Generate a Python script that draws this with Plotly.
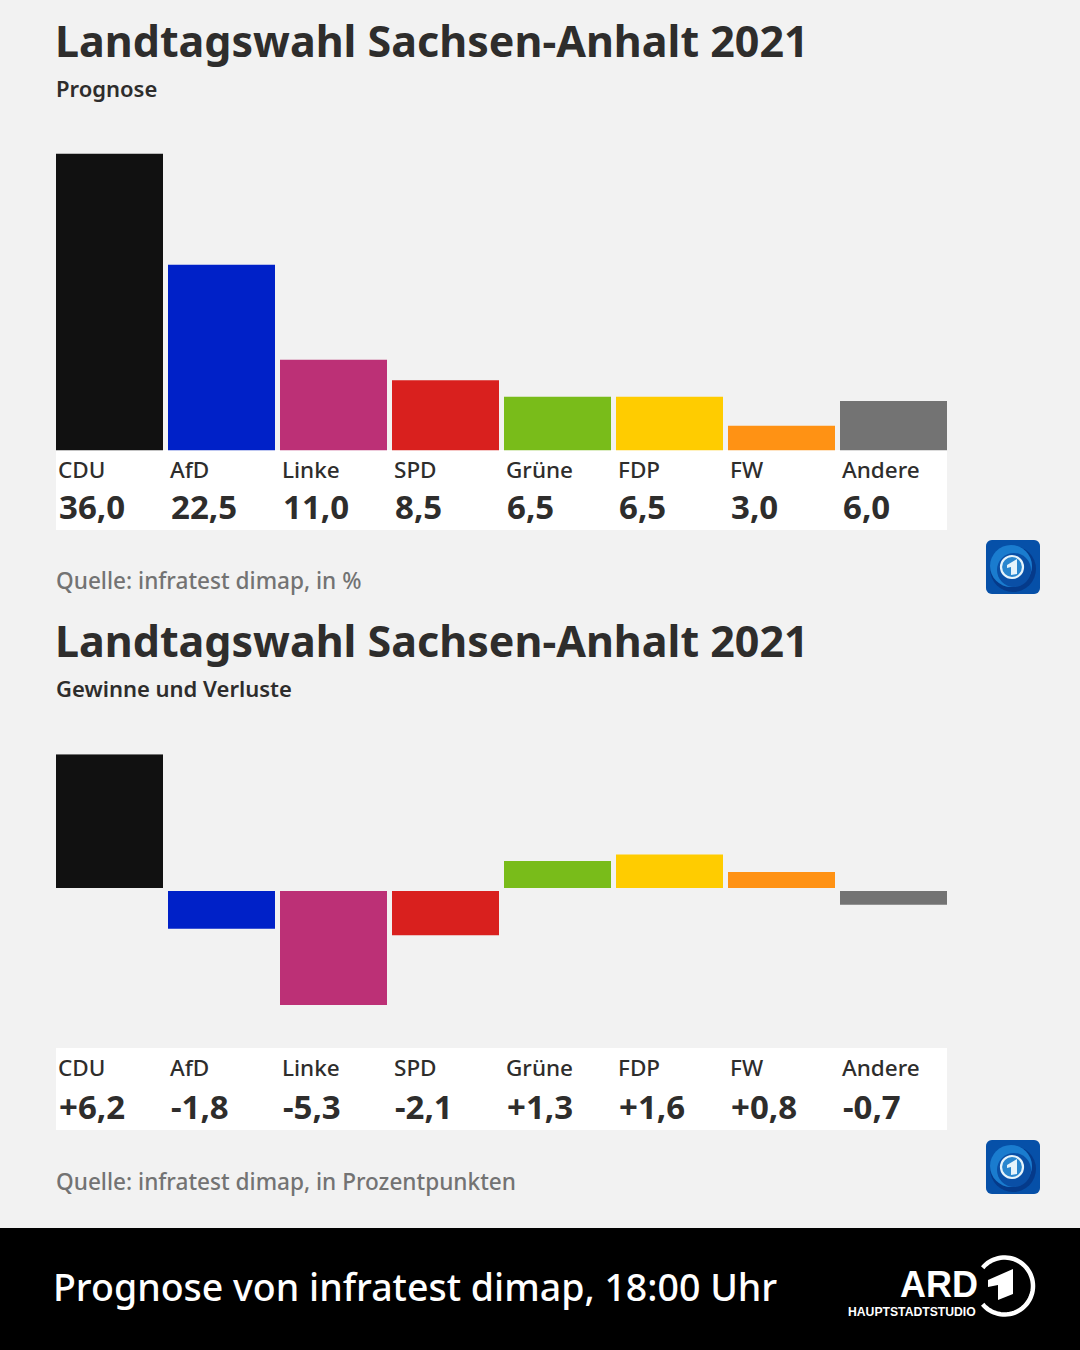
import math
import plotly.graph_objects as go

W, H = 1080, 1350
parties = ["CDU", "AfD", "Linke", "SPD", "Grüne", "FDP", "FW", "Andere"]
colors = ["#111111", "#0021c8", "#bc3076", "#d9201e", "#79bc1a", "#ffcc00", "#ff9214", "#737373"]
prognose = [36.0, 22.5, 11.0, 8.5, 6.5, 6.5, 3.0, 6.0]
prognose_labels = ["36,0", "22,5", "11,0", "8,5", "6,5", "6,5", "3,0", "6,0"]
diff = [6.2, -1.8, -5.3, -2.1, 1.3, 1.6, 0.8, -0.7]
diff_labels = ["+6,2", "-1,8", "-5,3", "-2,1", "+1,3", "+1,6", "+0,8", "-0,7"]

BG = "#f2f2f2"
DARK = "#2e2d2c"
GREY = "#737373"
FONT = "Noto Sans"


def py(v):
    return 1 - v / H


def px(v):
    return v / W


fig = go.Figure()
fig.add_bar(x=parties, y=prognose, marker_color=colors, marker_line_width=0,
            xaxis="x", yaxis="y", showlegend=False)
fig.add_bar(x=parties, y=diff, marker_color=colors, marker_line_width=0,
            xaxis="x2", yaxis="y2", showlegend=False)

shapes = []
ann = []


def rect(x0, y0, x1, y1, color, layer="below"):
    shapes.append(dict(type="rect", xref="paper", yref="paper", x0=px(x0), x1=px(x1),
                       y0=py(y1), y1=py(y0), fillcolor=color, line_width=0, layer=layer))


def circle(cx, cy, r, fill="rgba(0,0,0,0)", line=None, lw=0):
    shapes.append(dict(type="circle", xref="paper", yref="paper", x0=px(cx - r), x1=px(cx + r),
                       y0=py(cy + r), y1=py(cy - r), fillcolor=fill,
                       line=dict(color=line or "rgba(0,0,0,0)", width=lw), layer="above"))


def path(points, color, lw=0, fill=True):
    d = "M " + " L ".join(f"{px(x):.5f},{py(y):.5f}" for x, y in points)
    if fill:
        d += " Z"
    shapes.append(dict(type="path", xref="paper", yref="paper", path=d,
                       fillcolor=color if fill else "rgba(0,0,0,0)",
                       line=dict(color=color, width=lw), layer="above"))


def text(x, y, s, size, color=DARK, weight=400, xref="paper", xshift=0, family=FONT):
    ann.append(dict(x=x if xref != "paper" else px(x), y=py(y), xref=xref, yref="paper", text=s,
                    showarrow=False, xanchor="left", yanchor="middle", xshift=xshift,
                    borderpad=0,
                    font=dict(family=family, size=size, color=color, weight=weight)))


def logo(x0, y0):
    s = 54
    r = 6
    pts = []
    for cx, cy, a0 in [(x0 + s - r, y0 + r, -90), (x0 + s - r, y0 + s - r, 0),
                       (x0 + r, y0 + s - r, 90), (x0 + r, y0 + r, 180)]:
        for k in range(7):
            a = math.radians(a0 + 15 * k)
            pts.append((cx + r * math.cos(a), cy + r * math.sin(a)))
    path(pts, "#0650a8")
    cx, cy = x0 + 26, y0 + 27
    circle(cx + 1, cy + 2, 23, fill="#053a8a")
    circle(cx - 1, cy - 1, 21, fill="#1a7ccf")
    circle(cx + 2, cy + 3, 17, fill="#0a4fa6")
    circle(cx, cy, 11, fill="#2a86cf", line="#e8f4fb", lw=2.2)
    path([(cx - 5, cy - 2), (cx + 5, cy - 8), (cx + 5, cy + 7), (cx - 1, cy + 8), (cx - 1, cy), (cx - 5, cy + 1)],
         "#e6f3fb")


# top chart furniture
text(54, 40, "Landtagswahl Sachsen-Anhalt 2021", 43, weight=700)
text(54.5, 88, "Prognose", 22, weight=600)
rect(56, 450, 947, 530, "#ffffff")
for i, p in enumerate(parties):
    text(p, 470, p, 22.5, weight=500, xref="x", xshift=-53.5 + 1)
    text(p, 507, prognose_labels[i], 33, weight=700, xref="x", xshift=-53.5 + 2)
text(55, 581, "Quelle: infratest dimap, in %", 22.6, color=GREY, weight=500)
logo(986, 540)

# bottom chart furniture
text(54, 640, "Landtagswahl Sachsen-Anhalt 2021", 43, weight=700)
text(54.5, 688, "Gewinne und Verluste", 22, weight=600)
rect(56, 1048, 947, 1130, "#ffffff")
for i, p in enumerate(parties):
    text(p, 1067, p, 22.5, weight=500, xref="x2", xshift=-53.5 + 1)
    text(p, 1106, diff_labels[i], 33, weight=700, xref="x2", xshift=-53.5 + 2)
text(55, 1181, "Quelle: infratest dimap, in Prozentpunkten", 22.6, color=GREY, weight=500)
logo(986, 1140)

# gap around the zero line of the lower chart
shapes.append(dict(type="line", xref="paper", yref="y2", x0=px(50), x1=px(952), y0=0, y1=0,
                   line=dict(color=BG, width=3), layer="above"))

# footer
rect(0, 1228, 1080, 1350, "#000000")
text(51.5, 1286, "Prognose von infratest dimap, 18:00 Uhr", 37.5, color="#ffffff", weight=500)
text(899, 1284, "ARD", 36, color="#ffffff", weight=700, family="Liberation Sans")
text(847, 1312, "HAUPTSTADTSTUDIO", 12.2, color="#ffffff", weight=700, family="Liberation Sans")
arc = []
for k in range(0, 61):
    a = math.radians(-140 + 280 * k / 60)
    arc.append((1004.5 + 28.5 * math.cos(a), 1286 + 28.5 * math.sin(a)))
path(arc, "#ffffff", lw=4.5, fill=False)
path([(988, 1280), (1013, 1269), (1013, 1294), (998, 1300), (998, 1285), (988, 1287)], "#ffffff")

fig.update_layout(
    width=W, height=H, autosize=False,
    margin=dict(l=0, r=0, t=0, b=0, pad=0),
    paper_bgcolor=BG, plot_bgcolor="rgba(0,0,0,0)",
    barmode="overlay", bargap=5 / 112,
    shapes=shapes, annotations=ann, showlegend=False,
    font=dict(family=FONT),
    xaxis=dict(domain=[px(53.5), px(949.5)], range=[-0.5, 7.5], visible=False,
               categoryorder="array", categoryarray=parties),
    xaxis2=dict(domain=[px(53.5), px(949.5)], range=[-0.5, 7.5], visible=False, anchor="y2",
                categoryorder="array", categoryarray=parties),
    yaxis=dict(domain=[py(450.5), py(153.5)], range=[0, 36], visible=False),
    yaxis2=dict(domain=[py(1005.0), py(754.3)], range=[-5.3, 6.2], visible=False, anchor="x2"),
)

fig.write_html("out.html", config={"displayModeBar": False},
               post_script="document.body.style.margin='0';document.body.style.overflow='hidden';")
